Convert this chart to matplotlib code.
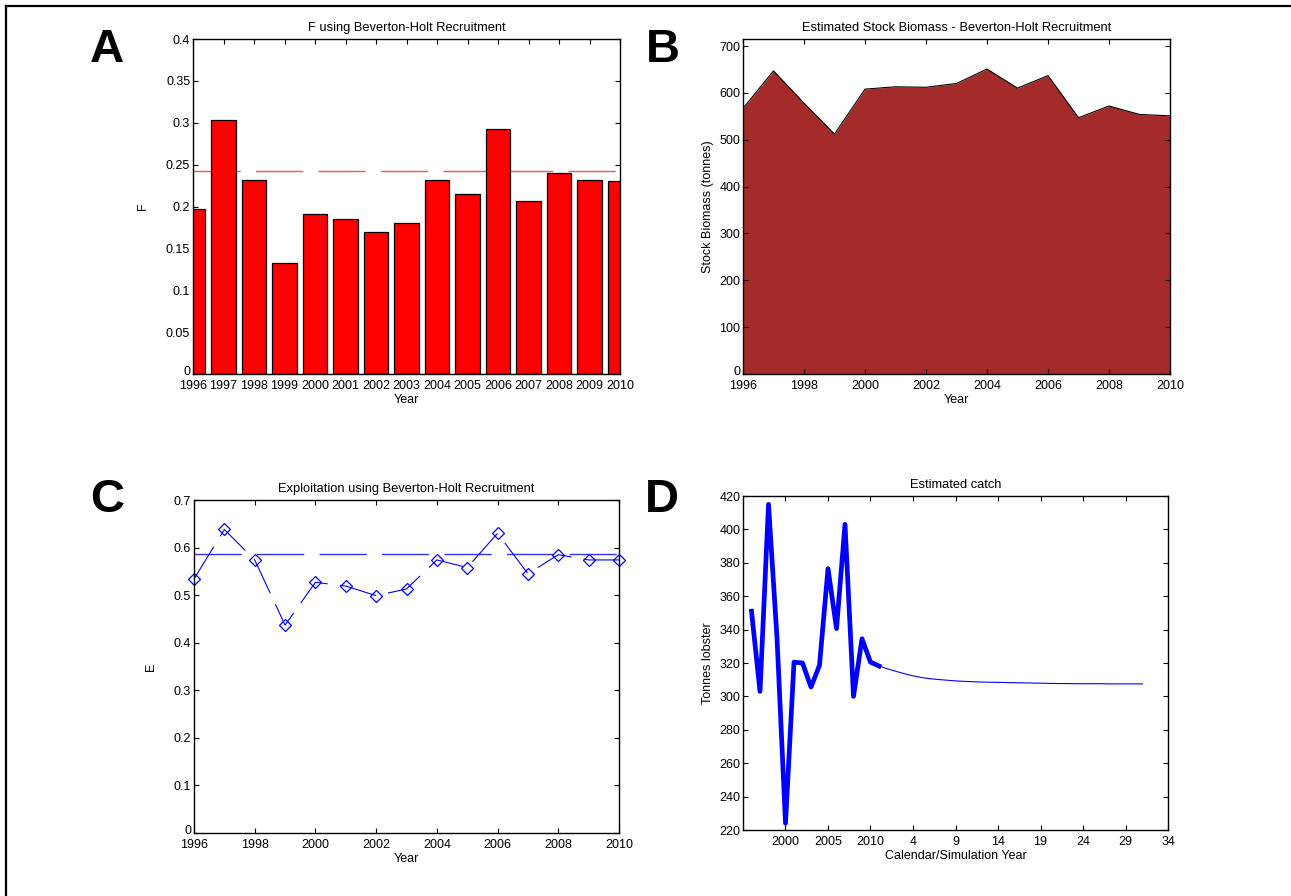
import matplotlib
matplotlib.use("Agg")
import matplotlib.pyplot as plt
from matplotlib.ticker import FuncFormatter, FixedLocator
from matplotlib.lines import Line2D
from matplotlib.transforms import ScaledTranslation
import numpy as np

plt.rcParams['font.family'] = ['Liberation Sans', 'DejaVu Sans']

# ---- data ----
years = [1996, 1997, 1998, 1999, 2000, 2001, 2002, 2003,
         2004, 2005, 2006, 2007, 2008, 2009, 2010]
F_vals = [0.197, 0.303, 0.232, 0.133, 0.191, 0.185, 0.170, 0.180,
          0.232, 0.215, 0.292, 0.206, 0.240, 0.232, 0.231]
F_mean = 0.242

biomass = [567, 647, 578, 512, 608, 613, 612, 620,
           651, 610, 637, 547, 572, 554, 551]

E_vals = [0.534, 0.638, 0.574, 0.437, 0.527, 0.519, 0.499, 0.513,
          0.574, 0.558, 0.630, 0.545, 0.585, 0.574, 0.574]
E_mean = 0.587

# estimated catch: calendar years (thick) then simulation years (thin)
catch_idx = list(range(1, 17))
catch_obs = [351, 303, 415, 335, 224, 320.5, 320, 305.6,
             318.6, 376.5, 340.6, 403, 300, 334.5, 320.5, 318.2]
sim_idx = list(range(16, 48))
catch_sim = [318.2, 316.5, 315, 313.6, 312.3, 311.3, 310.6, 310.1,
             309.7, 309.3, 309.0, 308.8, 308.6, 308.5, 308.4, 308.3,
             308.2, 308.1, 308.0, 307.9, 307.8, 307.7, 307.7, 307.6,
             307.6, 307.6, 307.6, 307.5, 307.5, 307.5, 307.5, 307.5]
catch_ticks = [5, 10, 15, 20, 25, 30, 35, 40, 45, 50]
catch_ticklabels = ['2000', '2005', '2010', '4', '9', '14', '19', '24', '29', '34']

W, H = 1291, 896
fig = plt.figure(figsize=(W / 100, H / 100), dpi=100)

def box(l, t, r, b):
    return [l / W, 1 - b / H, (r - l) / W, (b - t) / H]

fs = 9
tfs = 9.3
gfmt = FuncFormatter(lambda v, p: '%g' % round(v, 4))

def style(ax, lift_zero=True):
    ax.tick_params(direction='in', top=True, right=True, length=3.5,
                   width=0.8, labelsize=fs, pad=2)
    ax.tick_params(axis='x', pad=4)
    for s in ax.spines.values():
        s.set_linewidth(1.0)
    if lift_zero:
        # the "0" sits just above the x labels, as in the original
        lab = ax.yaxis.get_major_ticks()[0].label1
        lab.set_transform(lab.get_transform() +
                          ScaledTranslation(0, 4 / 100, fig.dpi_scale_trans))

dash = (34, 11)

# ---- A ----
axA = fig.add_axes(box(193, 39, 620, 374))
axA.plot([1996, 2010], [F_mean, F_mean], color='#ff5050', lw=1.0,
         dashes=dash, zorder=1)
axA.bar(years, F_vals, width=0.8, color='#ff0000', edgecolor='black',
        linewidth=0.9, zorder=2)
axA.set_xlim(1996, 2010)
axA.set_ylim(0, 0.4)
axA.set_xticks(years)
axA.set_yticks(np.arange(0, 0.401, 0.05))
axA.yaxis.set_major_formatter(gfmt)
axA.set_title('F using Beverton-Holt Recruitment', fontsize=tfs, pad=6)
axA.set_xlabel('Year', fontsize=fs, labelpad=2)
axA.set_ylabel('F', fontsize=fs, labelpad=12)
style(axA)

# ---- B ----
axB = fig.add_axes(box(743, 39, 1170, 374))
axB.fill_between(years, biomass, 0, color='#a52a2a', linewidth=0)
axB.plot(years, biomass, color='black', lw=0.8)
axB.set_xlim(1996, 2010)
axB.set_ylim(0, 715)
axB.set_xticks(range(1996, 2011, 2))
axB.set_yticks(range(0, 701, 100))
axB.set_title('Estimated Stock Biomass - Beverton-Holt Recruitment', fontsize=tfs, pad=6)
axB.set_xlabel('Year', fontsize=fs, labelpad=2)
axB.set_ylabel('Stock Biomass (tonnes)', fontsize=fs, labelpad=4)
style(axB)

# ---- C ----
axC = fig.add_axes(box(194, 500, 619, 833))
axC.plot([1996, 2010], [E_mean, E_mean], color='#3030ff', lw=1.0, dashes=dash)
axC.plot(years, E_vals, color='blue', lw=0.8, dashes=dash, marker='D',
         markersize=6.5, markerfacecolor='none', markeredgecolor='blue',
         markeredgewidth=0.9, clip_on=False)
axC.set_xlim(1996, 2010)
axC.set_ylim(0, 0.7)
axC.set_xticks(range(1996, 2011, 2))
axC.set_yticks(np.arange(0, 0.701, 0.1))
axC.yaxis.set_major_formatter(gfmt)
axC.set_title('Exploitation using Beverton-Holt Recruitment', fontsize=tfs, pad=6)
axC.set_xlabel('Year', fontsize=fs, labelpad=2)
axC.set_ylabel('E', fontsize=fs, labelpad=12)
style(axC)

# ---- D ----
axD = fig.add_axes(box(743, 496, 1168, 830))
axD.plot(catch_idx, catch_obs, color='blue', lw=3.4, solid_joinstyle='round')
axD.plot(sim_idx, catch_sim, color='blue', lw=0.8)
axD.set_xlim(0, 50)
axD.set_ylim(220, 420)
axD.xaxis.set_major_locator(FixedLocator(catch_ticks))
axD.set_xticklabels(catch_ticklabels)
axD.set_yticks(range(220, 421, 20))
axD.set_title('Estimated catch', fontsize=tfs, pad=6)
axD.set_xlabel('Calendar/Simulation Year', fontsize=fs, labelpad=2)
axD.set_ylabel('Tonnes lobster', fontsize=fs, labelpad=4)
style(axD, lift_zero=False)

# ---- panel letters ----
for lab, x, y in [('A', 107, 62), ('B', 663, 62), ('C', 107, 512), ('D', 662, 512)]:
    fig.text(x / W, 1 - y / H, lab, ha='center', va='baseline',
             fontsize=34, fontweight='bold')

# ---- outer frame (top and left edges visible) ----
fig.add_artist(Line2D([6 / W, 6 / W], [0, 1 - 6 / H], color='black', lw=1.6,
                      transform=fig.transFigure))
fig.add_artist(Line2D([6 / W, 1], [1 - 6 / H, 1 - 6 / H], color='black', lw=1.6,
                      transform=fig.transFigure))

fig.savefig('out.png', dpi=100)
